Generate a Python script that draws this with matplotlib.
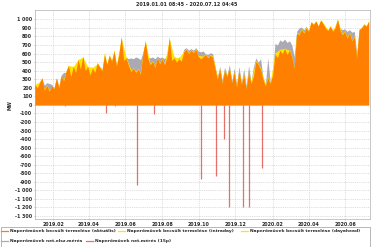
import numpy as np
import matplotlib
matplotlib.use("Agg")
import matplotlib.pyplot as plt
import matplotlib.dates as mdates
from matplotlib.lines import Line2D
from matplotlib.patches import Rectangle

# ---------------- data ----------------
start_date = "2019-01-01"
step_days = 4            # spacing of the sampled daily peaks below
dayahead_step_days = 8

orange_aktualis = [
    240, 200, 260, 320, 170, 230, 160, 220, 190, 310,
    200, 340, 280, 390, 460, 330, 450, 380, 530, 420,
    570, 400, 450, 350, 430, 380, 490, 440, 400, 590,
    470, 580, 510, 630, 450, 590, 800, 520, 550, 460,
    390, 430, 380, 420, 360, 600, 745, 550, 470, 510,
    440, 550, 480, 540, 470, 560, 785, 520, 550, 500,
    540, 510, 620, 650, 600, 640, 610, 650, 570, 540,
    560, 590, 550, 580, 560, 430, 300, 420, 250, 400,
    330, 430, 260, 380, 210, 400, 240, 350, 190, 380,
    250, 330, 510, 470, 415, 300, 220, 320, 250, 350,
    600, 550, 640, 600, 660, 590, 640, 560, 430, 840,
    820, 880, 840, 900, 860, 970, 940, 980, 920, 990,
    950, 900, 870, 920, 860, 900, 1000, 880, 820, 860,
    780, 840, 750, 800, 550, 880, 900, 940, 920, 980,
]

gray_netelsz = [
    250, 210, 250, 300, 230, 260, 250, 240, 200, 320,
    220, 350, 380, 380, 440, 360, 440, 400, 520, 440,
    560, 420, 440, 400, 430, 420, 480, 450, 420, 560,
    480, 570, 520, 610, 470, 580, 760, 540, 560, 540,
    550, 540, 560, 550, 530, 610, 720, 560, 550, 560,
    540, 570, 550, 560, 540, 580, 770, 560, 570, 540,
    560, 550, 650, 670, 640, 660, 640, 670, 630, 620,
    630, 600, 590, 610, 600, 460, 330, 450, 290, 440,
    350, 470, 280, 430, 240, 450, 260, 420, 220, 460,
    270, 440, 550, 500, 540, 320, 240, 550, 270, 380,
    720, 700, 760, 740, 770, 730, 750, 700, 560, 860,
    900, 910, 880, 920, 870, 960, 930, 970, 910, 980,
    940, 900, 880, 920, 880, 910, 990, 900, 880, 890,
    860, 880, 850, 860, 600, 870, 900, 950, 920, 970,
]

yellow_intraday = [
    250, 190, 280, 310, 180, 240, 170, 210, 200, 300,
    210, 330, 290, 400, 470, 340, 440, 390, 540, 430,
    560, 410, 460, 360, 440, 390, 500, 450, 410, 620,
    480, 590, 520, 650, 460, 600, 790, 530, 560, 470,
    400, 440, 390, 430, 370, 610, 760, 560, 480, 520,
    450, 560, 490, 550, 480, 570, 800, 530, 560, 510,
    550, 520, 630, 660, 610, 650, 620, 660, 580, 550,
    570, 600, 560, 590, 570, 440, 310, 430, 260, 410,
    340, 440, 270, 390, 220, 410, 250, 360, 200, 390,
    260, 340, 520, 480, 430, 310, 230, 330, 260, 360,
    620, 560, 650, 610, 670, 600, 650, 570, 440, 850,
    830, 890, 850, 910, 870, 980, 950, 990, 930, 1000,
    960, 910, 880, 930, 870, 910, 1010, 890, 830, 870,
    790, 850, 760, 810, 560, 890, 910, 950, 930, 990,
]

yellow_dayahead = [
    240, 270, 190, 180, 210, 220, 300, 460, 450, 530,
    560, 450, 440, 480, 420, 480, 520, 470, 780, 560,
    410, 400, 380, 740, 490, 460, 500, 490, 770, 560,
    550, 630, 610, 620, 580, 570, 560, 570, 320, 270,
    350, 280, 230, 260, 210, 270, 520, 420, 240, 270,
    610, 650, 660, 640, 440, 830, 850, 870, 950, 930,
    960, 880, 870, 990, 830, 790, 760, 560, 910, 930,
]

red_dates = ["2019-02-20", "2019-04-30", "2019-05-15", "2019-06-20", "2019-07-19",
             "2019-10-05", "2019-10-29", "2019-11-12", "2019-11-21", "2019-12-13",
             "2019-12-24", "2020-01-15"]
red_netmeres = [-15, -95, -15, -935, -105, -865, -830, -400, -1195, -1190, -1195, -740]

y_ticks = list(range(-1300, 1001, 100))
x_tick_dates = ["2019-02-01", "2019-04-01", "2019-06-01", "2019-08-01", "2019-10-01",
                "2019-12-01", "2020-02-01", "2020-04-01", "2020-06-01"]
x_start = "2019-01-01T08:45"
x_end = "2020-07-12T04:45"

title = "2019.01.01 08:45 - 2020.07.12 04:45"
legend_labels = ["Naperőművek becsült termelése (aktuális)",
                 "Naperőművek becsült termelése (intraday)",
                 "Naperőművek becsült termelése (dayahead)",
                 "Naperőművek net.elsz.mérés",
                 "Naperőművek net.mérés (15p)"]

# ---------------- colours ----------------
C_ORANGE = "#ff7f00"
C_YELLOW = "#ffe400"
C_GRAY = "#aaa9b4"
C_RED = "#e4706a"
C_TEXT = "#2a2a2a"

# ---------------- figure ----------------
W, H = 375, 247
fig = plt.figure(figsize=(W / 100, H / 100), dpi=100)
ax = fig.add_axes([35 / W, 1 - 219 / H, 335 / W, 209 / H])

def to_num(d):
    return mdates.date2num(np.asarray(d, dtype="datetime64[s]").astype(object))

def day_dates(n, step):
    return np.datetime64(start_date) + np.arange(n) * np.timedelta64(step, "D")

d_main = to_num(day_dates(len(orange_aktualis), step_days))
d_da = to_num(day_dates(len(yellow_dayahead), dayahead_step_days))

def fill(x, vals, color, z):
    ax.fill_between(x, 0, vals, color=color, lw=0, zorder=z)

fill(d_main, gray_netelsz, C_GRAY, 2)
fill(d_da, yellow_dayahead, C_YELLOW, 3)
fill(d_main, yellow_intraday, C_YELLOW, 4)
ax.vlines(to_num([np.datetime64(d) for d in red_dates]), 0, red_netmeres,
          color=C_RED, lw=0.9, zorder=5)
fill(d_main, orange_aktualis, C_ORANGE, 6)

ax.set_ylim(-1335, 1110)
ax.set_xlim(to_num(np.datetime64(x_start)), to_num(np.datetime64(x_end)))

ax.set_yticks(y_ticks)
ax.set_yticklabels([("-" if v < 0 else "") + f"{abs(v):,}".replace(",", " ") for v in y_ticks])
ax.set_xticks(to_num([np.datetime64(d) for d in x_tick_dates]))
ax.set_xticklabels([d[:7].replace("-", ".") for d in x_tick_dates])

for lab in ax.get_yticklabels() + ax.get_xticklabels():
    lab.set_fontsize(3.4)
    lab.set_fontweight("bold")
    lab.set_color(C_TEXT)
ax.tick_params(axis="both", length=1.0, width=0.4, color="#999999", pad=1.0)

ax.grid(True, color="#cfcfcf", lw=0.45, ls=(0, (2, 1.5)), zorder=0)
ax.set_axisbelow(True)
for s in ax.spines.values():
    s.set_color("#b0b0b0")
    s.set_linewidth(0.5)

fig.text(10 / W, 1 - 105 / H, "MW", rotation=90, ha="center", va="center",
         fontsize=3.4, fontweight="bold", color=C_TEXT)
fig.text(187 / W, 1 - 4.5 / H, title, ha="center", va="center",
         fontsize=3.5, fontweight="bold", color=C_TEXT)

# ---------------- legend ----------------
fig.add_artist(Rectangle((0.5 / W, 1 - 246.5 / H), 369 / W, 19.5 / H, transform=fig.transFigure,
                         fill=False, ec="#9a9a9a", lw=0.5))
entries = [
    (1, 230.5, C_ORANGE, legend_labels[0]),
    (118, 230.5, C_YELLOW, legend_labels[1]),
    (241, 230.5, C_YELLOW, legend_labels[2]),
    (1, 241, C_GRAY, legend_labels[3]),
    (86, 241, C_RED, legend_labels[4]),
]
for x0, y0, col, lab in entries:
    fig.add_artist(Line2D([x0 / W, (x0 + 7) / W], [1 - y0 / H, 1 - y0 / H],
                          transform=fig.transFigure, color=col, lw=0.9))
    fig.text((x0 + 9) / W, 1 - y0 / H, lab, ha="left", va="center",
             fontsize=3.15, fontweight="bold", color=C_TEXT)

fig.savefig("out.png", dpi=100)
